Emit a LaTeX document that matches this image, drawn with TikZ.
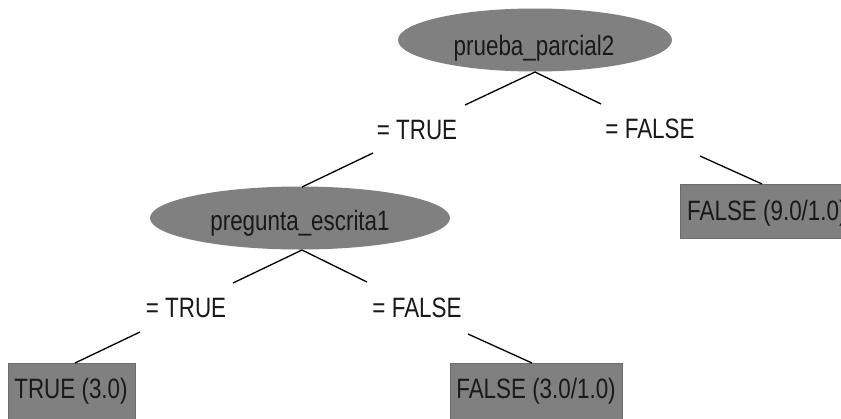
\documentclass[tikz,border=0pt]{standalone}
\usepackage{fontspec}
\usepackage{graphicx}
\setmainfont{Liberation Sans}
\usetikzlibrary{shapes.geometric}
\newcommand\narrowtxt[1]{\scalebox{0.8}[1]{#1}}
\tikzset{
  x=1pt, y=-1pt,
  decision/.style={ellipse, fill=gray, draw=none, inner sep=0pt},
  leaf/.style={rectangle, fill=gray, draw=gray!85!black, line width=0.6pt, inner sep=0pt},
  txt/.style={anchor=base, inner sep=0pt, text=black!90,
              font=\fontsize{28}{30}\selectfont},
  branch/.style={draw=black, line width=1.3pt},
}
\begin{document}
\begin{tikzpicture}
\useasboundingbox (0,0) rectangle (841,418);
\clip (0,0) rectangle (841,418);
\fill[white] (0,0) rectangle (841,418);

% root test
\node[decision, minimum width=274, minimum height=63] (root) at (535,40) {};
\node[txt] (rootT) at (534,55) {\narrowtxt{prueba\_parcial2}};

% first level branch labels
\node[txt] (lblT1) at (417,139) {\narrowtxt{= TRUE}};
\node[txt] (lblF1) at (650,138) {\narrowtxt{= FALSE}};

% second test
\node[decision, minimum width=300, minimum height=63] (quest) at (300,218) {};
\node[txt] (questT) at (300,230) {\narrowtxt{pregunta\_escrita1}};

% leaf on the FALSE side of the root
\node[leaf, anchor=north west, minimum width=175, minimum height=54] (leafR) at (680,184) {};
\node[txt, anchor=base west] (leafRT) at (687,220) {\narrowtxt{FALSE (9.0/1.0)}};

% second level branch labels
\node[txt] (lblT2) at (186,317) {\narrowtxt{= TRUE}};
\node[txt] (lblF2) at (417,317) {\narrowtxt{= FALSE}};

% bottom leaves
\node[leaf, anchor=north west, minimum width=127, minimum height=60] (leafA) at (8,363) {};
\node[txt] (leafAT) at (71,398) {\narrowtxt{TRUE (3.0)}};
\node[leaf, anchor=north west, minimum width=172, minimum height=60] (leafB) at (450,363) {};
\node[txt] (leafBT) at (536,398) {\narrowtxt{FALSE (3.0/1.0)}};

% connector ends next to the labels
\coordinate (rootB) at (535,72);
\coordinate (t1in) at (465,105);
\coordinate (f1in) at (601,104);
\coordinate (t1out) at (373,153);
\coordinate (f1out) at (700,156);
\coordinate (questTop) at (302,187);
\coordinate (questB) at (302,250);
\coordinate (t2in) at (233,283);
\coordinate (f2in) at (367,282);
\coordinate (t2out) at (140,332);
\coordinate (f2out) at (468,334);
\coordinate (leafRtop) at (762,184);
\coordinate (leafAtop) at (75,363);
\coordinate (leafBtop) at (532,363);

\draw[branch] (rootB) -- (t1in);
\draw[branch] (rootB) -- (f1in);
\draw[branch] (t1out) -- (questTop);
\draw[branch] (f1out) -- (leafRtop);
\draw[branch] (questB) -- (t2in);
\draw[branch] (questB) -- (f2in);
\draw[branch] (t2out) -- (leafAtop);
\draw[branch] (f2out) -- (leafBtop);
\end{tikzpicture}
\end{document}
